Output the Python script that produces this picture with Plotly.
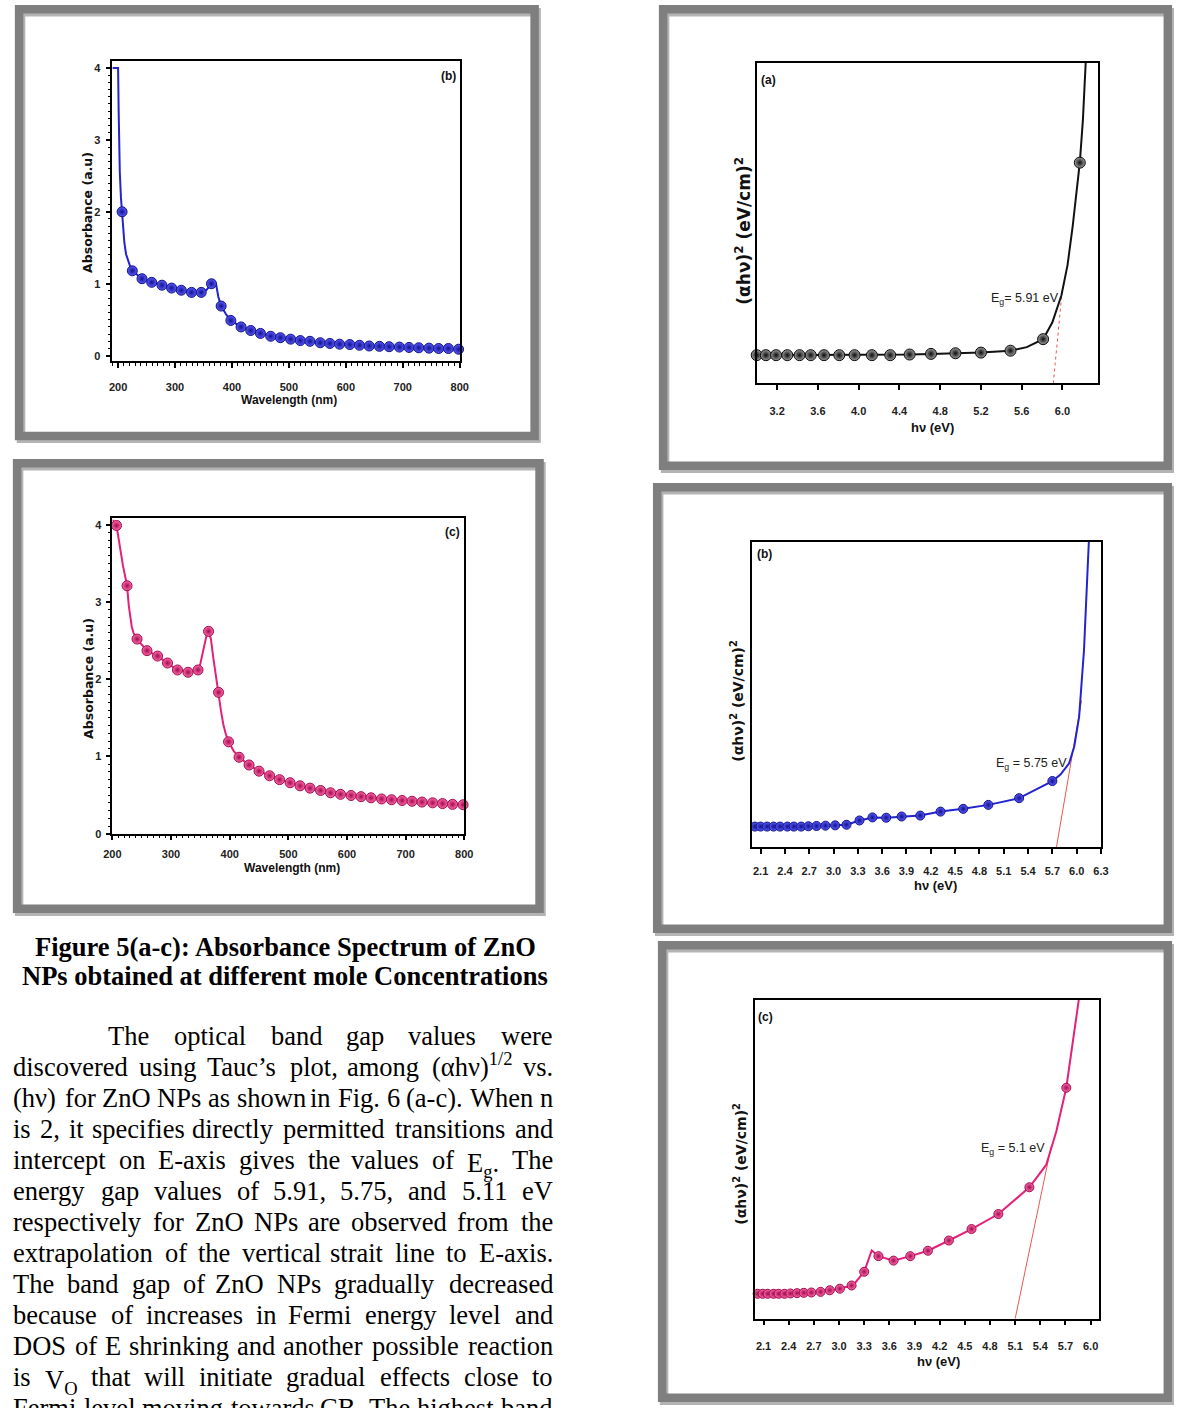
import re
import plotly.graph_objects as go

W, H = 1181, 1408

# ---------------- absorbance spectra (wavelength in nm) ----------------
WAVELENGTH_NM = [207, 225, 242, 259, 277, 294, 311, 329, 346, 364, 381, 398, 416, 433, 450,
                 468, 485, 503, 520, 537, 555, 572, 589, 607, 624, 641, 659, 676, 694, 711,
                 728, 746, 763, 780, 798]
ABS_B = [2.00, 1.18, 1.07, 1.02, 0.98, 0.94, 0.91, 0.88, 0.88, 1.00, 0.69, 0.49, 0.40, 0.35, 0.31,
         0.27, 0.25, 0.23, 0.21, 0.20, 0.18, 0.17, 0.16, 0.155, 0.145, 0.135, 0.13, 0.125, 0.12, 0.115,
         0.11, 0.105, 0.10, 0.10, 0.09]
ABS_C = [3.99, 3.21, 2.52, 2.37, 2.30, 2.21, 2.12, 2.09, 2.12, 2.62, 1.83, 1.19, 0.99, 0.89, 0.81,
         0.75, 0.70, 0.66, 0.62, 0.59, 0.56, 0.53, 0.51, 0.495, 0.48, 0.465, 0.45, 0.44, 0.43, 0.42,
         0.41, 0.40, 0.39, 0.38, 0.375]
# extra points of the continuous traces between the symbols
ABS_B_CURVE_NM = [190, 200, 201, 202, 203, 205, 209, 211, 214, 218, 222, 355, 369, 372, 376, 390, 800]
ABS_B_CURVE = [4.0, 4.0, 3.4, 2.9, 2.55, 2.2, 1.75, 1.57, 1.41, 1.3, 1.22, 0.91, 1.03, 1.0, 0.82, 0.57, 0.09]
ABS_C_CURVE_NM = [200, 203, 212, 218, 228, 233, 236, 350, 355, 360, 368, 372, 376, 385, 389, 393, 407, 800]
ABS_C_CURVE = [4.06, 4.04, 3.76, 3.47, 2.95, 2.68, 2.6, 2.2, 2.36, 2.55, 2.52, 2.28, 2.05, 1.6, 1.42, 1.3, 1.07, 0.37]

# ---------------- Tauc plots (photon energy in eV, arbitrary y units) ----------------
TAUC_A_EV = [3.00, 3.09, 3.19, 3.30, 3.42, 3.53, 3.66, 3.81, 3.96, 4.13, 4.31, 4.50, 4.71, 4.95,
             5.20, 5.49, 5.81, 6.17]
TAUC_A = [8.8, 8.8, 8.8, 8.8, 8.8, 8.8, 8.8, 8.8, 8.8, 8.8, 8.8, 9.0, 9.2, 9.4, 9.6, 10.2, 13.8, 68.9]
TAUC_A_CURVE_EV = [5.65, 5.90, 5.99, 6.05, 6.10, 6.20, 6.225, 6.24]
TAUC_A_CURVE = [11.3, 19.0, 27.5, 37.0, 49.0, 82.0, 100.0, 108.0]

TAUC_B_EV = [2.03, 2.10, 2.18, 2.26, 2.34, 2.43, 2.51, 2.60, 2.69, 2.79, 2.90, 3.02, 3.16, 3.32,
             3.48, 3.65, 3.84, 4.07, 4.32, 4.60, 4.91, 5.29, 5.70]
TAUC_B = [6.8, 6.8, 6.8, 6.8, 6.8, 6.8, 6.8, 6.8, 6.9, 7.0, 7.1, 7.2, 7.4, 8.8, 9.8, 9.7, 10.1,
          10.4, 11.7, 12.6, 13.9, 16.1, 21.7]
TAUC_B_CURVE_EV = [2.0, 5.80, 5.907, 5.97, 6.03, 6.09, 6.15, 6.17]
TAUC_B_CURVE = [6.8, 23.8, 27.5, 33.0, 42.7, 64.4, 100.0, 110.0]

TAUC_C_EV = [2.03, 2.09, 2.15, 2.22, 2.28, 2.35, 2.42, 2.50, 2.58, 2.67, 2.78, 2.89, 3.01, 3.15,
             3.30, 3.47, 3.65, 3.85, 4.06, 4.31, 4.58, 4.90, 5.27, 5.71]
TAUC_C = [7.8, 7.8, 7.8, 7.8, 7.8, 7.8, 7.9, 8.0, 8.1, 8.2, 8.4, 8.9, 9.4, 10.4, 14.7, 19.6,
          18.2, 19.6, 21.3, 24.5, 28.1, 32.8, 41.2, 72.4]
TAUC_C_CURVE_EV = [2.0, 3.19, 3.39, 5.47, 5.59, 5.80, 5.87]
TAUC_C_CURVE = [7.8, 11.2, 21.4, 48.2, 58.6, 88.0, 102.0]

# band-gap values and the linear extrapolations drawn from them
EG_A, EG_B, EG_C = 5.91, 5.75, 5.1
FIT_A_EV, FIT_A = [EG_A, 6.00], [0, 30]
FIT_B_EV, FIT_B = [EG_B, 6.06], [0, 48]
FIT_C_EV, FIT_C = [EG_C, 5.53], [0, 54]

ABS_X_TICKS = [200, 300, 400, 500, 600, 700, 800]

CAPTION = ["Figure 5(a-c): Absorbance Spectrum of ZnO",
           "NPs obtained at different mole Concentrations"]
BODY = [
    "The optical band gap values were",
    "discovered using Tauc’s plot, among (αhν)<sup>1/2</sup> vs.",
    "(hν) for ZnO NPs as shown in Fig. 6 (a-c). When n",
    "is 2, it specifies directly permitted transitions and",
    "intercept on E-axis gives the values of E<sub>g</sub>. The",
    "energy gap values of 5.91, 5.75, and 5.11 eV",
    "respectively for ZnO NPs are observed from the",
    "extrapolation of the vertical strait line to E-axis.",
    "The band gap of ZnO NPs gradually decreased",
    "because of increases in Fermi energy level and",
    "DOS of E shrinking and another possible reaction",
    "is V<sub>O</sub> that will initiate gradual effects close to",
    "Fermi level moving towards CB. The highest band",
]

# ---------------- helpers ----------------
def merged(xs, ys, xs2, ys2):
    pts = sorted(zip(list(xs) + list(xs2), list(ys) + list(ys2)))
    return [p[0] for p in pts], [p[1] for p in pts]


def px_x(x):
    return x / W


def px_y(y):
    return 1 - y / H


# plot-area boxes in page pixels: left, right, top, bottom
BOX = {
    1: (105, 457.7, 61.7, 363),
    2: (105, 462.3, 520, 837.3),
    3: (759.3, 1106, 63.3, 385),
    4: (755, 1109.3, 544, 851),
    5: (757.7, 1107.3, 1004, 1324.3),
}

BLUE_LINE, BLUE_C, BLUE_E = "#2323cf", "#5a5aff", "#12128a"
PINK_LINE, PINK_C, PINK_E = "#e3207a", "#ff6aae", "#a00c4c"
BLACK_LINE, GREY_C, GREY_E = "#111111", "#a0a0a0", "#0a0a0a"
FIT_COLOR = "#e8584f"

SANS = "Liberation Sans"
WIDE = "DejaVu Sans"
SERIF = "Liberation Serif"

fig = go.Figure()


def axis_names(n):
    return ("x" if n == 1 else f"x{n}"), ("y" if n == 1 else f"y{n}")


def add_series(n, cx, cy, mx, my, lcol, mcol, medge, msize):
    xa, ya = axis_names(n)
    fig.add_trace(go.Scatter(x=cx, y=cy, mode="lines", xaxis=xa, yaxis=ya,
                             line=dict(color=lcol, width=2), hoverinfo="skip", showlegend=False))
    fig.add_trace(go.Scatter(x=mx, y=my, mode="markers", xaxis=xa, yaxis=ya, cliponaxis=False,
                             marker=dict(size=msize, color=mcol,
                                         gradient=dict(type="radial", color=medge),
                                         line=dict(width=1, color=medge)),
                             hoverinfo="skip", showlegend=False))


def add_fit(n, fx, fy, dash):
    xa, ya = axis_names(n)
    fig.add_trace(go.Scatter(x=fx, y=fy, mode="lines", xaxis=xa, yaxis=ya,
                             line=dict(color=FIT_COLOR, width=1, dash=dash),
                             hoverinfo="skip", showlegend=False))


# fitted extrapolations go underneath the data curves
add_fit(3, FIT_A_EV, FIT_A, "dot")
add_fit(4, FIT_B_EV, FIT_B, "solid")
add_fit(5, FIT_C_EV, FIT_C, "solid")

cx, cy = merged(WAVELENGTH_NM, ABS_B, ABS_B_CURVE_NM, ABS_B_CURVE)
add_series(1, cx, cy, WAVELENGTH_NM, ABS_B, BLUE_LINE, BLUE_C, BLUE_E, 10)
cx, cy = merged(WAVELENGTH_NM, ABS_C, ABS_C_CURVE_NM, ABS_C_CURVE)
add_series(2, cx, cy, WAVELENGTH_NM, ABS_C, PINK_LINE, PINK_C, PINK_E, 10)
cx, cy = merged(TAUC_A_EV, TAUC_A, TAUC_A_CURVE_EV, TAUC_A_CURVE)
add_series(3, cx, cy, TAUC_A_EV, TAUC_A, BLACK_LINE, GREY_C, GREY_E, 11)
cx, cy = merged(TAUC_B_EV, TAUC_B, TAUC_B_CURVE_EV, TAUC_B_CURVE)
add_series(4, cx, cy, TAUC_B_EV, TAUC_B, BLUE_LINE, BLUE_C, BLUE_E, 9)
cx, cy = merged(TAUC_C_EV, TAUC_C, TAUC_C_CURVE_EV, TAUC_C_CURVE)
add_series(5, cx, cy, TAUC_C_EV, TAUC_C, PINK_LINE, PINK_C, PINK_E, 9)

TICKFONT = dict(family=SANS, size=11, color="#222222", weight="bold")
FRAME_AXIS = dict(showline=True, linecolor="black", linewidth=1.5, mirror=True,
                  showgrid=False, zeroline=False, tickcolor="black", tickwidth=1.5)

layout = {}
for n, (l, r, t, b) in BOX.items():
    xa, ya = axis_names(n)
    xkey = "xaxis" if n == 1 else f"xaxis{n}"
    ykey = "yaxis" if n == 1 else f"yaxis{n}"
    layout[xkey] = dict(domain=[px_x(l), px_x(r)], anchor=ya, tickfont=TICKFONT, **FRAME_AXIS)
    layout[ykey] = dict(domain=[px_y(b), px_y(t)], anchor=xa, tickfont=TICKFONT, **FRAME_AXIS)

# absorbance panels
for n, xr, yr, xs, ys in [(1, [190, 800], [-0.08, 4.09], 10, 3), (2, [200, 800], [0, 4.09], 4, 2)]:
    xkey = "xaxis" if n == 1 else f"xaxis{n}"
    ykey = "yaxis" if n == 1 else f"yaxis{n}"
    layout[xkey].update(range=xr, tickmode="array", tickvals=ABS_X_TICKS, ticks="outside", ticklen=5,
                        ticklabelstandoff=xs,
                        minor=dict(tickmode="linear", tick0=200, dtick=10, ticks="outside", ticklen=3,
                                   tickwidth=1, tickcolor="black"))
    layout[ykey].update(range=yr, tick0=0, dtick=1, ticks="outside", ticklen=5, ticklabelstandoff=ys,
                        minor=dict(tick0=0, dtick=0.1, ticks="outside", ticklen=3, tickwidth=1,
                                   tickcolor="black"))

# Tauc panels
for n, xr, t0, dt, xs in [(3, [3.0, 6.35], 3.2, 0.4, 12), (4, [2.0, 6.305], 2.1, 0.3, 8),
                          (5, [2.0, 6.105], 2.1, 0.3, 11)]:
    layout[f"xaxis{n}"].update(range=xr, tick0=t0, dtick=dt, tickformat=".1f", ticks="outside",
                               ticklen=5, ticklabelstandoff=xs)
    layout[f"yaxis{n}"].update(range=[0, 100], showticklabels=False, ticks="")

# ---------------- text ----------------
ann = []


def label(x, y, text, size, family=SANS, angle=0, xanchor="center", yanchor="middle", color="#111111"):
    ann.append(dict(x=px_x(x), y=px_y(y), xref="paper", yref="paper", text=text, showarrow=False,
                    textangle=angle, xanchor=xanchor, yanchor=yanchor, borderpad=0,
                    font=dict(family=family, size=size, color=color)))


# axis titles
label(79, 213, "<b>Absorbance (a.u)</b>", 12.5, WIDE, -90)
label(80, 681, "<b>Absorbance (a.u)</b>", 12.5, WIDE, -90)
label(284, 402, "<b>Wavelength (nm)</b>", 12)
label(287, 872, "<b>Wavelength (nm)</b>", 12)
TAUC_Y = "<b>(αhν)<sup>2</sup> (eV/cm)<sup>2</sup></b>"
label(745, 232, TAUC_Y, 17, WIDE, -90)
label(739, 704, TAUC_Y, 14, WIDE, -90)
label(742, 1169, TAUC_Y, 14, WIDE, -90)
label(938, 429, "<b>hν (eV)</b>", 13)
label(941, 889, "<b>hν (eV)</b>", 13)
label(944, 1367, "<b>hν (eV)</b>", 13)

# panel tags
label(446.5, 76, "<b>(b)</b>", 12)
label(450, 534, "<b>(c)</b>", 12)
label(771, 80, "<b>(a)</b>", 12)
label(767, 556, "<b>(b)</b>", 12)
label(768.5, 1021, "<b>(c)</b>", 12)

# band-gap labels
label(1032, 300, f"E<sub>g</sub>= {EG_A:.2f} eV", 12.5, color="#222222")
label(1038, 767, f"E<sub>g</sub> = {EG_B:.2f} eV", 12.5, color="#222222")
label(1020, 1154, f"E<sub>g</sub> = {EG_C:.1f} eV", 12.5, color="#222222")

# Times-like advance widths (per 1000 em)
TW = {' ': 250, 'a': 444, 'b': 500, 'c': 444, 'd': 500, 'e': 444, 'f': 333, 'g': 500, 'h': 500,
      'i': 278, 'j': 278, 'k': 500, 'l': 278, 'm': 778, 'n': 500, 'o': 500, 'p': 500, 'q': 500,
      'r': 333, 's': 389, 't': 278, 'u': 500, 'v': 500, 'w': 722, 'x': 500, 'y': 500, 'z': 444,
      'A': 722, 'B': 667, 'C': 667, 'D': 722, 'E': 611, 'F': 556, 'G': 722, 'H': 722, 'I': 333,
      'J': 389, 'K': 722, 'L': 611, 'M': 889, 'N': 722, 'O': 722, 'P': 556, 'Q': 722, 'R': 667,
      'S': 556, 'T': 611, 'U': 722, 'V': 722, 'W': 944, 'X': 722, 'Y': 722, 'Z': 611,
      '.': 250, ',': 250, '(': 333, ')': 333, '-': 333, ':': 278, '’': 333, '/': 278,
      'α': 540, 'ν': 520}
WIDTH_FUDGE = 1.025


def word_width(word, size):
    w, scale = 0.0, 1.0
    for tok in re.split(r"(</?su[pb]>)", word):
        if tok in ("<sup>", "<sub>"):
            scale = 0.7
        elif tok in ("</sup>", "</sub>"):
            scale = 1.0
        else:
            w += sum(TW.get(ch, 500) for ch in tok) * scale
    return w / 1000.0 * size * WIDTH_FUDGE


BODY_SIZE = 26.5
ASC, DESC = 0.891, 0.216


def place_word(x, baseline, word, anchor_x):
    if "<sub>" in word:
        y, ya = baseline - ASC * BODY_SIZE, "top"
    else:
        y, ya = baseline + DESC * BODY_SIZE, "bottom"
    label(x, y, word, BODY_SIZE, SERIF, xanchor=anchor_x, yanchor=ya, color="black")


# caption (bold, centred)
for i, line in enumerate(CAPTION):
    base = 961 + 30 * i
    label(280.5, base + DESC * 26.5, f"<b>{line}</b>", 26.5, SERIF, yanchor="bottom", color="black")

# justified body text: first half of each line measured from the left margin,
# second half from the right margin
LEFT, RIGHT, INDENT = 3.5, 553, 100
for k, line in enumerate(BODY):
    base = 1051 + 31.1 * k
    words = line.split(" ")
    x0 = INDENT if k == 0 else LEFT
    widths = [word_width(w, BODY_SIZE) for w in words]
    gap = (RIGHT - x0 - sum(widths)) / (len(words) - 1)
    n = len(words)
    half = (n + 1) // 2
    x = x0
    for i in range(half):
        place_word(x, base, words[i], "left")
        x += widths[i] + gap
    x = RIGHT
    for i in range(n - 1, half - 1, -1):
        place_word(x, base, words[i], "right")
        x -= widths[i] + gap

# ---------------- frames around the figure panels ----------------
FRAMES = [(6, 5, 538, 442), (4, 461, 543, 917), (660, 5, 1181, 472),
          (654, 485, 1181, 937), (659, 945, 1181, 1408)]
FRAME_W = 8.5
shapes = []
for (l, t, r, b) in FRAMES:
    h = FRAME_W / 2
    shapes.append(dict(type="rect", xref="paper", yref="paper",
                       x0=px_x(l + h + 2), x1=px_x(r - h + 2), y0=px_y(b - h + 3), y1=px_y(t + h + 3),
                       line=dict(color="rgba(40,40,40,0.35)", width=FRAME_W), layer="below"))
    shapes.append(dict(type="rect", xref="paper", yref="paper",
                       x0=px_x(l + h), x1=px_x(r - h), y0=px_y(b - h), y1=px_y(t + h),
                       line=dict(color="#7f7f7f", width=FRAME_W), layer="below"))

fig.update_layout(
    width=W, height=H, margin=dict(l=0, r=0, t=0, b=0),
    paper_bgcolor="white", plot_bgcolor="white", showlegend=False,
    annotations=ann, shapes=shapes, **layout,
)

fig.write_html("out.html")
